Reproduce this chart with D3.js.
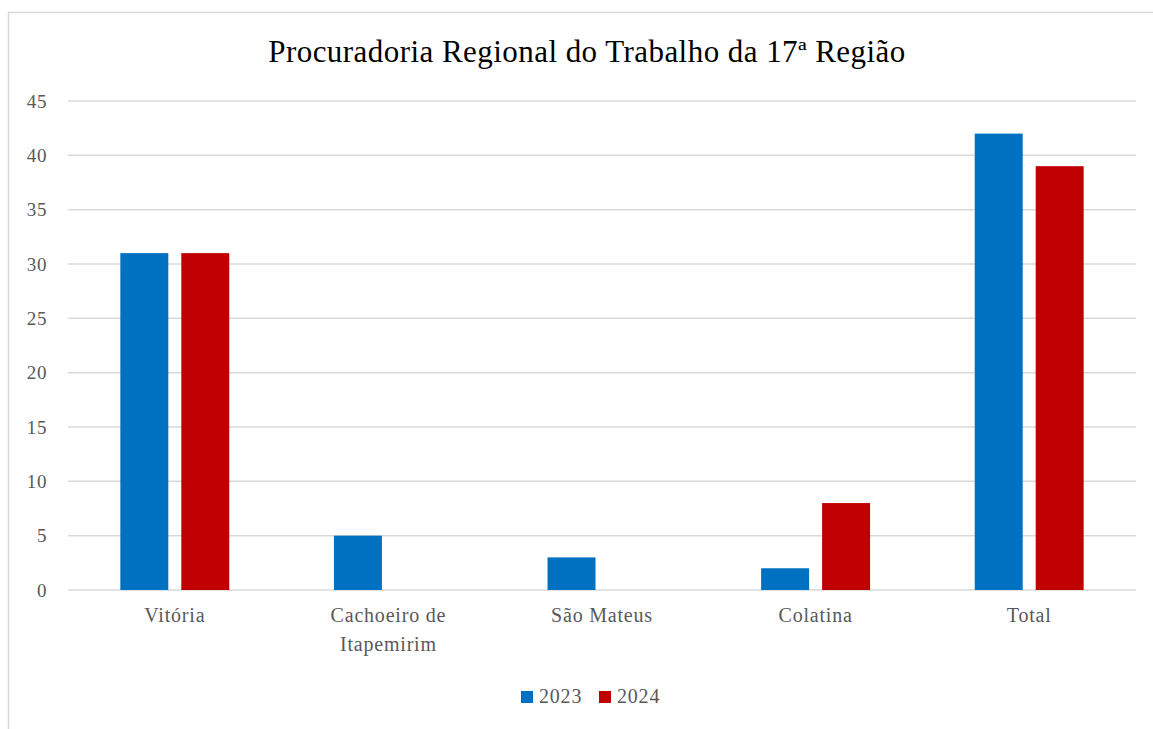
<!DOCTYPE html>
<html><head><meta charset="utf-8">
<script src="https://cdn.jsdelivr.net/npm/d3@7"></script>
<style>body{margin:0;background:#fff}svg{display:block}</style>
</head><body>
<svg id="c" width="1153" height="729"></svg>
<script>
const categories = ["Vitória", "Cachoeiro de Itapemirim", "São Mateus", "Colatina", "Total"];
const categoryLines = [["Vitória"], ["Cachoeiro de", "Itapemirim"], ["São Mateus"], ["Colatina"], ["Total"]];
const seriesNames = ["2023", "2024"];
const values2023 = [31, 5, 3, 2, 42];
const values2024 = [31, 0, 0, 8, 39];
const yTicks = [0, 5, 10, 15, 20, 25, 30, 35, 40, 45];
const colors = ["#0070C0", "#C00000"];
const title = "Procuradoria Regional do Trabalho da 17ª Região";

(function () {
const svg = d3.select("#c");
const font = "'Liberation Serif', 'Times New Roman', serif";
svg.append("rect").attr("x", 8.5).attr("y", 12.5).attr("width", 1160).attr("height", 740)
  .attr("fill", "#fff").attr("stroke", "#d9d9d9").attr("stroke-width", 1.5);

const pLeft = 68, pRight = 1136, pTop = 101, pBottom = 590;
const x = d3.scaleBand().domain(categories).range([pLeft, pRight]).paddingInner(0.49).paddingOuter(0.245);
const xs = d3.scaleBand().domain(seriesNames).range([0, x.bandwidth()]).paddingInner(0.213);
const y = d3.scaleLinear().domain([0, 45]).range([pBottom, pTop]);

svg.append("text").attr("x", 587).attr("y", 62).attr("text-anchor", "middle")
  .attr("font-family", font).attr("font-size", 31).attr("letter-spacing", 0.45)
  .attr("fill", "#000").text(title);

const grid = svg.append("g");
yTicks.forEach(t => {
  grid.append("line").attr("x1", pLeft).attr("x2", pRight).attr("y1", y(t)).attr("y2", y(t))
    .attr("stroke", "#d9d9d9").attr("stroke-width", 1.5);
  grid.append("text").attr("x", 47).attr("y", y(t)).attr("dy", "0.35em").attr("text-anchor", "end")
    .attr("font-family", font).attr("font-size", 19).attr("letter-spacing", 0.6)
    .attr("fill", "#595959").text(t);
});

const data = [values2023, values2024];
seriesNames.forEach((s, si) => {
  svg.append("g").selectAll("rect").data(categories).join("rect")
    .attr("x", c => x(c) + xs(s))
    .attr("width", xs.bandwidth())
    .attr("y", (c, i) => y(data[si][i]))
    .attr("height", (c, i) => y(0) - y(data[si][i]))
    .attr("fill", colors[si]);
});

categories.forEach((c, i) => {
  const t = svg.append("text").attr("text-anchor", "middle").attr("font-family", font)
    .attr("font-size", 20).attr("letter-spacing", 0.8).attr("fill", "#595959");
  categoryLines[i].forEach((ln, li) => {
    t.append("tspan").attr("x", x(c) + x.bandwidth() / 2).attr("y", 622 + li * 29).text(ln);
  });
});

const legX = [521, 599];
seriesNames.forEach((s, si) => {
  svg.append("rect").attr("x", legX[si]).attr("y", 691).attr("width", 12).attr("height", 12).attr("fill", colors[si]);
  svg.append("text").attr("x", legX[si] + 18).attr("y", 703).attr("font-family", font)
    .attr("font-size", 20).attr("letter-spacing", 0.8).attr("fill", "#595959").text(s);
});
})();
</script>
</body></html>
